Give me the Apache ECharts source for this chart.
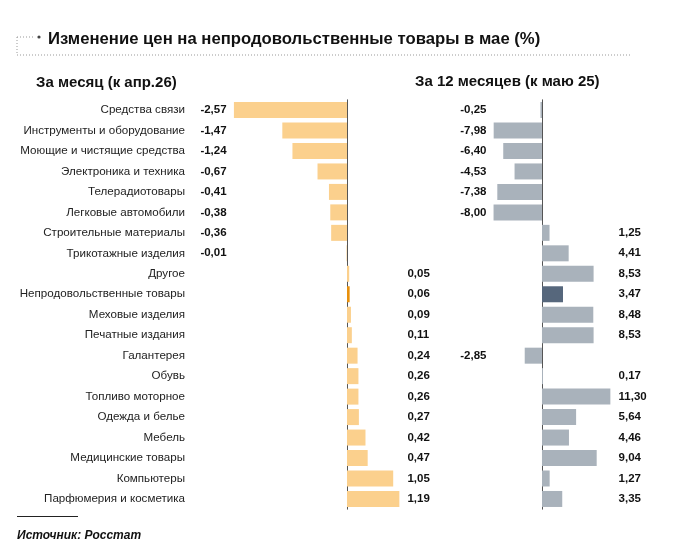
<!DOCTYPE html>
<html lang="ru">
<head>
    <meta charset="UTF-8">
    <title>Изменение цен на непродовольственные товары</title>
    <script src="https://cdn.jsdelivr.net/npm/echarts@6/dist/echarts.min.js"></script>
    <style>
        html, body { margin: 0; padding: 0; background: #fff; }
        #chart { width: 700px; height: 559px; }
    </style>
</head>
<body>
<div id="chart"></div>
<script>
    // категории (сверху вниз)
    var categories = [
        'Средства связи', 'Инструменты и оборудование', 'Моющие и чистящие средства',
        'Электроника и техника', 'Телерадиотовары', 'Легковые автомобили',
        'Строительные материалы', 'Трикотажные изделия', 'Другое',
        'Непродовольственные товары', 'Меховые изделия', 'Печатные издания',
        'Галантерея', 'Обувь', 'Топливо моторное', 'Одежда и белье', 'Мебель',
        'Медицинские товары', 'Компьютеры', 'Парфюмерия и косметика'
    ];
    // за месяц (к апр.26), %
    var monthVals = [-2.57, -1.47, -1.24, -0.67, -0.41, -0.38, -0.36, -0.01, 0.05, 0.06,
        0.09, 0.11, 0.24, 0.26, 0.26, 0.27, 0.42, 0.47, 1.05, 1.19];
    // за 12 месяцев (к маю 25), %
    var yearVals = [-0.25, -7.98, -6.40, -4.53, -7.38, -8.00, 1.25, 4.41, 8.53, 3.47,
        8.48, 8.53, -2.85, 0.17, 11.30, 5.64, 4.46, 9.04, 1.27, 3.35];
    var totalName = 'Непродовольственные товары';

    var font = 'Liberation Sans, Arial, sans-serif';
    var fmt = function (v) { return v.toFixed(2).replace('.', ','); };

    function barData(vals, color, hiColor) {
        return vals.map(function (v, i) {
            return { value: v, itemStyle: { color: categories[i] === totalName ? hiColor : color } };
        });
    }

    // оси-подписи значений: отрицательные слева, положительные справа
    function valueAxis(grid, vals, side, margin, neg) {
        return {
            type: 'category', gridIndex: grid, data: categories, inverse: true,
            position: side, axisLine: { show: false, onZero: false }, axisTick: { show: false },
            axisLabel: {
                interval: 0, margin: margin, fontFamily: font, fontSize: 11.5, fontWeight: 'bold', color: '#111',
                formatter: function (v, i) { return (neg ? vals[i] < 0 : vals[i] >= 0) ? fmt(vals[i]) : ''; }
            }
        };
    }

    var myChart = echarts.init(document.getElementById('chart'));
    var option = {
        backgroundColor: '#fff',
        animation: false,
        grid: [
            { left: 232.6, width: 173.8, top: 99.8, height: 409.4, outerBoundsMode: 'none' },
            { left: 487.5, width: 127.1, top: 99.8, height: 409.4, outerBoundsMode: 'none' }
        ],
        xAxis: [
            { type: 'value', gridIndex: 0, min: -2.6, max: 1.35, show: false },
            { type: 'value', gridIndex: 1, min: -9, max: 12, show: false }
        ],
        yAxis: [
            // названия категорий
            {
                type: 'category', gridIndex: 0, data: categories, inverse: true, position: 'left',
                axisLine: { show: false, onZero: false }, axisTick: { show: false },
                axisLabel: { interval: 0, margin: 47.6, fontFamily: font, fontSize: 11.6, color: '#222' }
            },
            // линия нуля, левая панель
            {
                type: 'category', gridIndex: 0, data: categories, inverse: true,
                axisLine: { show: true, onZero: true, lineStyle: { color: '#555', width: 1 } },
                axisTick: { show: false }, axisLabel: { show: false }
            },
            valueAxis(0, monthVals, 'left', 6, true),
            valueAxis(0, monthVals, 'right', 1, false),
            // линия нуля, правая панель
            {
                type: 'category', gridIndex: 1, data: categories, inverse: true,
                axisLine: { show: true, onZero: true, lineStyle: { color: '#555', width: 1 } },
                axisTick: { show: false }, axisLabel: { show: false }
            },
            valueAxis(1, yearVals, 'left', 1, true),
            valueAxis(1, yearVals, 'right', 4, false)
        ],
        title: [
            { text: 'Изменение цен на непродовольственные товары в мае (%)', left: 48, top: 31, padding: 0,
              textStyle: { fontFamily: font, fontSize: 16.7, fontWeight: 'bold', color: '#111' } },
            { text: 'За месяц (к апр.26)', left: 36, top: 75.5, padding: 0,
              textStyle: { fontFamily: font, fontSize: 15, fontWeight: 'bold', color: '#111' } },
            { text: 'За 12 месяцев (к маю 25)', left: 415, top: 74.5, padding: 0,
              textStyle: { fontFamily: font, fontSize: 15, fontWeight: 'bold', color: '#111' } },
            { text: 'Источник: Росстат', left: 17, top: 530, padding: 0,
              textStyle: { fontFamily: font, fontSize: 12, fontWeight: 'bold', fontStyle: 'italic', color: '#111' } }
        ],
        graphic: [
            { type: 'line', shape: { x1: 17, y1: 37, x2: 17, y2: 55 }, style: { stroke: '#999', lineWidth: 1, lineDash: [1, 2] } },
            { type: 'line', shape: { x1: 17, y1: 37, x2: 35, y2: 37 }, style: { stroke: '#999', lineWidth: 1, lineDash: [1, 2] } },
            { type: 'line', shape: { x1: 17, y1: 55, x2: 632, y2: 55 }, style: { stroke: '#999', lineWidth: 1, lineDash: [1, 2] } },
            { type: 'circle', shape: { cx: 39, cy: 37, r: 1.6 }, style: { fill: '#444' } },
            { type: 'line', shape: { x1: 17, y1: 516.5, x2: 78, y2: 516.5 }, style: { stroke: '#222', lineWidth: 1 } }
        ],
        series: [
            {
                name: 'За месяц', type: 'bar', xAxisIndex: 0, yAxisIndex: 1, barWidth: 16,
                data: barData(monthVals, '#FBD08D', '#E8900C')
            },
            {
                name: 'За 12 месяцев', type: 'bar', xAxisIndex: 1, yAxisIndex: 4, barWidth: 16,
                data: barData(yearVals, '#A9B2BB', '#56677C')
            }
        ]
    };

    myChart.setOption(option);
</script>
</body>
</html>
